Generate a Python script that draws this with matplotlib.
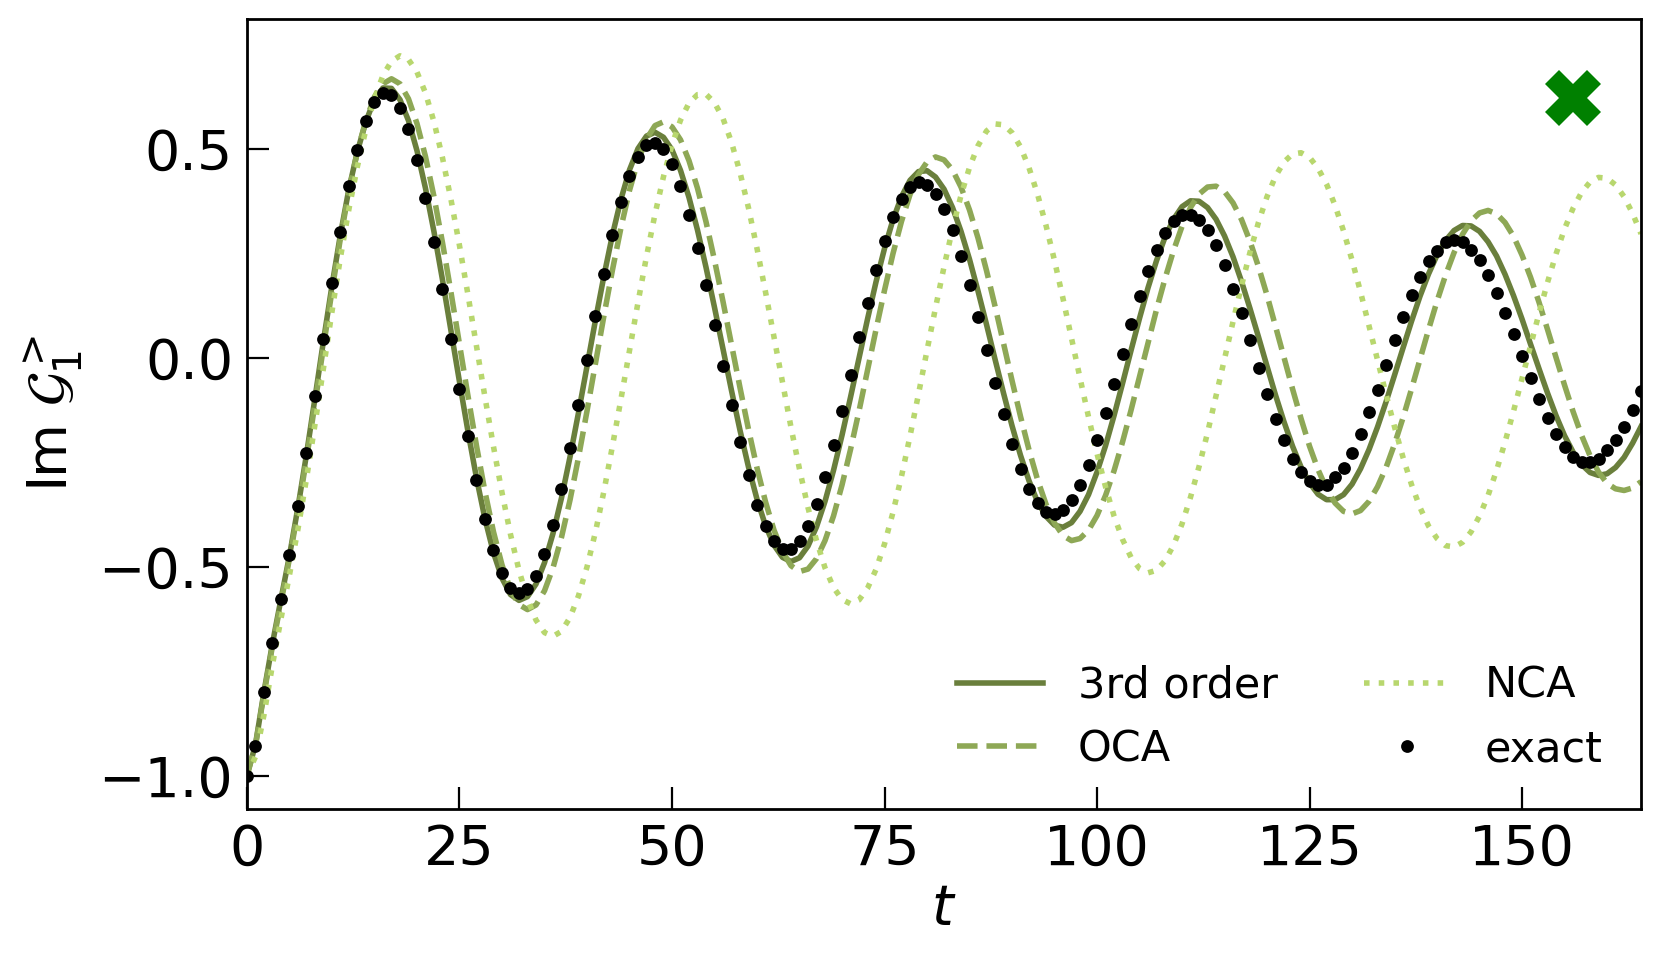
import matplotlib
matplotlib.use("Agg")
import matplotlib.pyplot as plt

# time grid (sampling of all series)
t = list(range(0, 165))

exact = [
    -1.000, -0.929, -0.801, -0.684, -0.578, -0.472, -0.355, -0.229, -0.093, 0.045,
    0.179, 0.301, 0.410, 0.497, 0.567, 0.612, 0.634, 0.628, 0.597, 0.546,
    0.472, 0.382, 0.277, 0.163, 0.044, -0.075, -0.188, -0.294, -0.386, -0.460,
    -0.516, -0.551, -0.564, -0.553, -0.522, -0.470, -0.400, -0.314, -0.217, -0.113,
    -0.006, 0.100, 0.201, 0.293, 0.371, 0.435, 0.480, 0.508, 0.514, 0.498,
    0.463, 0.410, 0.342, 0.262, 0.173, 0.077, -0.019, -0.114, -0.202, -0.282,
    -0.352, -0.403, -0.439, -0.458, -0.458, -0.438, -0.403, -0.351, -0.286, -0.210,
    -0.127, -0.041, 0.048, 0.131, 0.210, 0.279, 0.336, 0.379, 0.408, 0.419,
    0.414, 0.392, 0.355, 0.305, 0.243, 0.173, 0.096, 0.017, -0.061, -0.136,
    -0.206, -0.266, -0.314, -0.348, -0.370, -0.375, -0.364, -0.340, -0.306, -0.256,
    -0.198, -0.133, -0.063, 0.009, 0.081, 0.147, 0.206, 0.257, 0.298, 0.326,
    0.341, 0.341, 0.330, 0.305, 0.269, 0.221, 0.165, 0.107, 0.041, -0.024,
    -0.086, -0.146, -0.198, -0.242, -0.274, -0.296, -0.306, -0.306, -0.286, -0.264,
    -0.229, -0.184, -0.130, -0.077, -0.017, 0.041, 0.097, 0.149, 0.193, 0.230,
    0.255, 0.277, 0.281, 0.277, 0.258, 0.233, 0.197, 0.155, 0.107, 0.056,
    0.004, -0.049, -0.100, -0.145, -0.182, -0.214, -0.237, -0.250, -0.250, -0.242,
    -0.222, -0.198, -0.166, -0.126, -0.079,
]

third_order = [
    -1.000, -0.926, -0.800, -0.684, -0.578, -0.474, -0.358, -0.232, -0.097, 0.040,
    0.172, 0.295, 0.404, 0.494, 0.565, 0.618, 0.645, 0.644, 0.617, 0.567,
    0.495, 0.405, 0.301, 0.186, 0.064, -0.058, -0.177, -0.288, -0.386, -0.467,
    -0.528, -0.567, -0.581, -0.572, -0.542, -0.491, -0.421, -0.336, -0.238, -0.132,
    -0.021, 0.090, 0.196, 0.294, 0.379, 0.449, 0.500, 0.530, 0.539, 0.527,
    0.497, 0.448, 0.383, 0.305, 0.216, 0.120, 0.021, -0.079, -0.174, -0.262,
    -0.339, -0.402, -0.449, -0.478, -0.488, -0.479, -0.451, -0.405, -0.344, -0.270,
    -0.186, -0.095, -0.001, 0.092, 0.181, 0.261, 0.330, 0.385, 0.424, 0.445,
    0.447, 0.432, 0.403, 0.359, 0.302, 0.235, 0.159, 0.079, -0.004, -0.085,
    -0.163, -0.234, -0.295, -0.345, -0.380, -0.401, -0.406, -0.395, -0.368, -0.328,
    -0.274, -0.211, -0.139, -0.062, 0.017, 0.094, 0.167, 0.232, 0.288, 0.331,
    0.361, 0.375, 0.374, 0.359, 0.331, 0.291, 0.241, 0.182, 0.117, 0.049,
    -0.021, -0.090, -0.154, -0.212, -0.262, -0.300, -0.327, -0.340, -0.340, -0.328,
    -0.303, -0.266, -0.220, -0.166, -0.106, -0.042, 0.023, 0.087, 0.147, 0.200,
    0.245, 0.280, 0.304, 0.316, 0.315, 0.302, 0.277, 0.243, 0.199, 0.148,
    0.092, 0.032, -0.027, -0.085, -0.139, -0.187, -0.226, -0.256, -0.275, -0.282,
    -0.278, -0.263, -0.239, -0.205, -0.165,
]

oca = [
    -1.000, -0.928, -0.805, -0.690, -0.585, -0.481, -0.367, -0.243, -0.110, 0.026,
    0.160, 0.286, 0.399, 0.494, 0.568, 0.624, 0.655, 0.667, 0.655, 0.619,
    0.560, 0.481, 0.385, 0.275, 0.156, 0.032, -0.092, -0.211, -0.321, -0.417,
    -0.496, -0.555, -0.591, -0.603, -0.592, -0.558, -0.503, -0.430, -0.341, -0.239,
    -0.128, -0.014, 0.101, 0.210, 0.311, 0.400, 0.471, 0.523, 0.555, 0.564,
    0.552, 0.521, 0.471, 0.405, 0.325, 0.233, 0.134, 0.031, -0.072, -0.172,
    -0.264, -0.345, -0.413, -0.464, -0.498, -0.512, -0.506, -0.481, -0.438, -0.379,
    -0.305, -0.220, -0.128, -0.031, 0.067, 0.161, 0.249, 0.326, 0.390, 0.438,
    0.468, 0.480, 0.473, 0.449, 0.408, 0.353, 0.286, 0.208, 0.123, 0.034,
    -0.055, -0.141, -0.221, -0.292, -0.351, -0.396, -0.426, -0.438, -0.433, -0.413,
    -0.378, -0.330, -0.271, -0.202, -0.126, -0.046, 0.035, 0.115, 0.189, 0.256,
    0.314, 0.359, 0.391, 0.408, 0.410, 0.397, 0.370, 0.330, 0.278, 0.217,
    0.149, 0.075, 0.000, -0.075, -0.146, -0.212, -0.268, -0.314, -0.348, -0.368,
    -0.374, -0.366, -0.344, -0.309, -0.263, -0.207, -0.144, -0.075, -0.004, 0.067,
    0.135, 0.197, 0.251, 0.295, 0.327, 0.346, 0.352, 0.344, 0.323, 0.290,
    0.245, 0.192, 0.132, 0.067, 0.000, -0.066, -0.129, -0.186, -0.235, -0.274,
    -0.301, -0.314, -0.318, -0.312, -0.297,
]

nca = [
    -1.000, -0.955, -0.855, -0.735, -0.625, -0.520, -0.410, -0.290, -0.160, -0.025,
    0.110, 0.240, 0.356, 0.458, 0.547, 0.620, 0.675, 0.709, 0.722, 0.713,
    0.683, 0.633, 0.564, 0.478, 0.378, 0.268, 0.150, 0.028, -0.095, -0.213,
    -0.323, -0.423, -0.509, -0.578, -0.628, -0.658, -0.667, -0.655, -0.622, -0.570,
    -0.501, -0.417, -0.319, -0.211, -0.099, 0.017, 0.132, 0.242, 0.343, 0.433,
    0.509, 0.568, 0.609, 0.629, 0.630, 0.610, 0.572, 0.515, 0.443, 0.358,
    0.261, 0.157, 0.049, -0.060, -0.167, -0.267, -0.359, -0.438, -0.503, -0.550,
    -0.579, -0.589, -0.580, -0.552, -0.507, -0.446, -0.370, -0.284, -0.188, -0.087,
    0.017, 0.119, 0.217, 0.308, 0.388, 0.455, 0.507, 0.542, 0.559, 0.557,
    0.538, 0.504, 0.454, 0.391, 0.316, 0.232, 0.141, 0.046, -0.049, -0.142,
    -0.230, -0.309, -0.379, -0.435, -0.478, -0.505, -0.515, -0.509, -0.486, -0.449,
    -0.398, -0.334, -0.261, -0.180, -0.092, -0.003, 0.086, 0.172, 0.252, 0.324,
    0.385, 0.434, 0.468, 0.487, 0.490, 0.479, 0.453, 0.415, 0.364, 0.303,
    0.233, 0.157, 0.076, -0.006, -0.088, -0.166, -0.239, -0.304, -0.359, -0.403,
    -0.433, -0.450, -0.453, -0.442, -0.417, -0.379, -0.330, -0.270, -0.202, -0.128,
    -0.050, 0.029, 0.106, 0.180, 0.248, 0.308, 0.357, 0.395, 0.420, 0.431,
    0.429, 0.413, 0.385, 0.345, 0.296,
]

# single marker point
marker_t = [156]
marker_y = [0.62]

labels = ["3rd order", "OCA", "NCA", "exact"]
xticks = [0, 25, 50, 75, 100, 125, 150]
yticks = [-1.0, -0.5, 0.0, 0.5]

c_third = "#6a7f3c"
c_oca = "#8ea856"
c_nca = "#b8d76e"

fig = plt.figure(figsize=(8.31, 4.825), dpi=200)
ax = fig.add_axes([0.1486, 0.1617, 0.8388, 0.8186])

lw = 2.0
ax.plot(t, third_order, "-", color=c_third, lw=lw, label=labels[0])
ax.plot(t, oca, "--", color=c_oca, lw=lw, label=labels[1])
ax.plot(t, nca, ":", color=c_nca, lw=lw, label=labels[2])
ax.plot(t, exact, "o", color="black", ms=4.6, mew=0, ls="none", label=labels[3])
ax.plot(marker_t, marker_y, "X", color="green", ms=20, mew=0)

ax.set_xlim(0, 164)
ax.set_ylim(-1.08, 0.81)
ax.set_xticks(xticks)
ax.set_yticks(yticks)
ax.set_yticklabels(["\u22121.0", "\u22120.5", "0.0", "0.5"])
ax.tick_params(direction="in", length=8, width=0.8, labelsize=20, pad=5)
for s in ax.spines.values():
    s.set_linewidth(1.0)

ax.set_xlabel("$t$", fontsize=20, labelpad=2)
ax.set_ylabel("Im $\\mathcal{G}_1^{>}$", fontsize=20, labelpad=5)

ax.legend(loc="lower right", ncol=2, frameon=False, fontsize=15.5,
          handlelength=2.0, columnspacing=2.0, borderaxespad=0.5)

fig.savefig("out.png", dpi=200)
